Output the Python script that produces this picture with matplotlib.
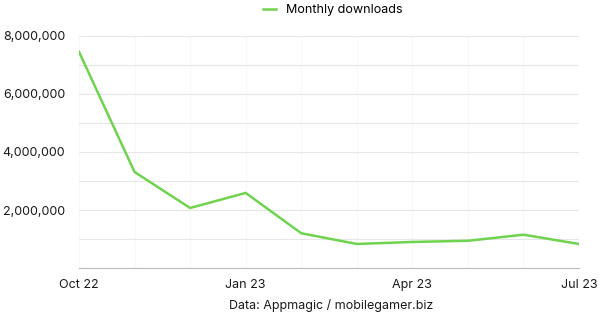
import numpy as np, pandas as pd
import matplotlib
matplotlib.use('Agg')
import matplotlib.pyplot as plt
from matplotlib.ticker import FuncFormatter, MultipleLocator

# Monthly downloads, Oct 22 - Jul 23
months = ['Oct 22', 'Nov 22', 'Dec 22', 'Jan 23', 'Feb 23', 'Mar 23',
          'Apr 23', 'May 23', 'Jun 23', 'Jul 23']
downloads = [7450000, 3310000, 2070000, 2590000, 1200000, 830000,
             900000, 940000, 1150000, 830000]
tick_labels = ['Oct 22', 'Jan 23', 'Apr 23', 'Jul 23']

plt.rcParams['font.family'] = ['Inter', 'DejaVu Sans']

fig = plt.figure(figsize=(6, 3.15), dpi=100)
ax = fig.add_axes([0.1317, 0.149, 0.8333, 0.737])

x = np.arange(len(months))
ax.plot(x, downloads, color='#6FD34F', lw=1.8, label='Monthly downloads')

ax.set_xlim(0, len(months) - 1)
ax.set_ylim(0, 8000000)
ax.set_xticks([months.index(t) for t in tick_labels])
ax.set_xticklabels(tick_labels)
ax.set_xticks(x, minor=True)
ax.yaxis.set_major_locator(MultipleLocator(2000000))
ax.yaxis.set_minor_locator(MultipleLocator(1000000))
ax.yaxis.set_major_formatter(FuncFormatter(lambda v, p: '' if v == 0 else f'{int(v):,}'))

ax.grid(axis='y', which='both', color='#e6e6e6', lw=0.8)
ax.grid(axis='x', which='both', color='#f8f8f8', lw=0.8)
ax.set_axisbelow(True)

for s in ['top', 'right', 'left']:
    ax.spines[s].set_visible(False)
ax.spines['bottom'].set_color('#bdbdbd')
ax.tick_params(which='both', length=0, labelsize=9, colors='#1a1a1a')
ax.tick_params(axis='x', pad=8)
ax.tick_params(axis='y', pad=10)

fig.legend(loc='upper center', bbox_to_anchor=(0.555, 1.022), frameon=False,
           fontsize=9, handlelength=1.0, handletextpad=0.8)
fig.text(0.552, 0.02, 'Data: Appmagic / mobilegamer.biz', ha='center', fontsize=9,
         color='#1a1a1a')

plt.savefig('out.png', dpi=100)
